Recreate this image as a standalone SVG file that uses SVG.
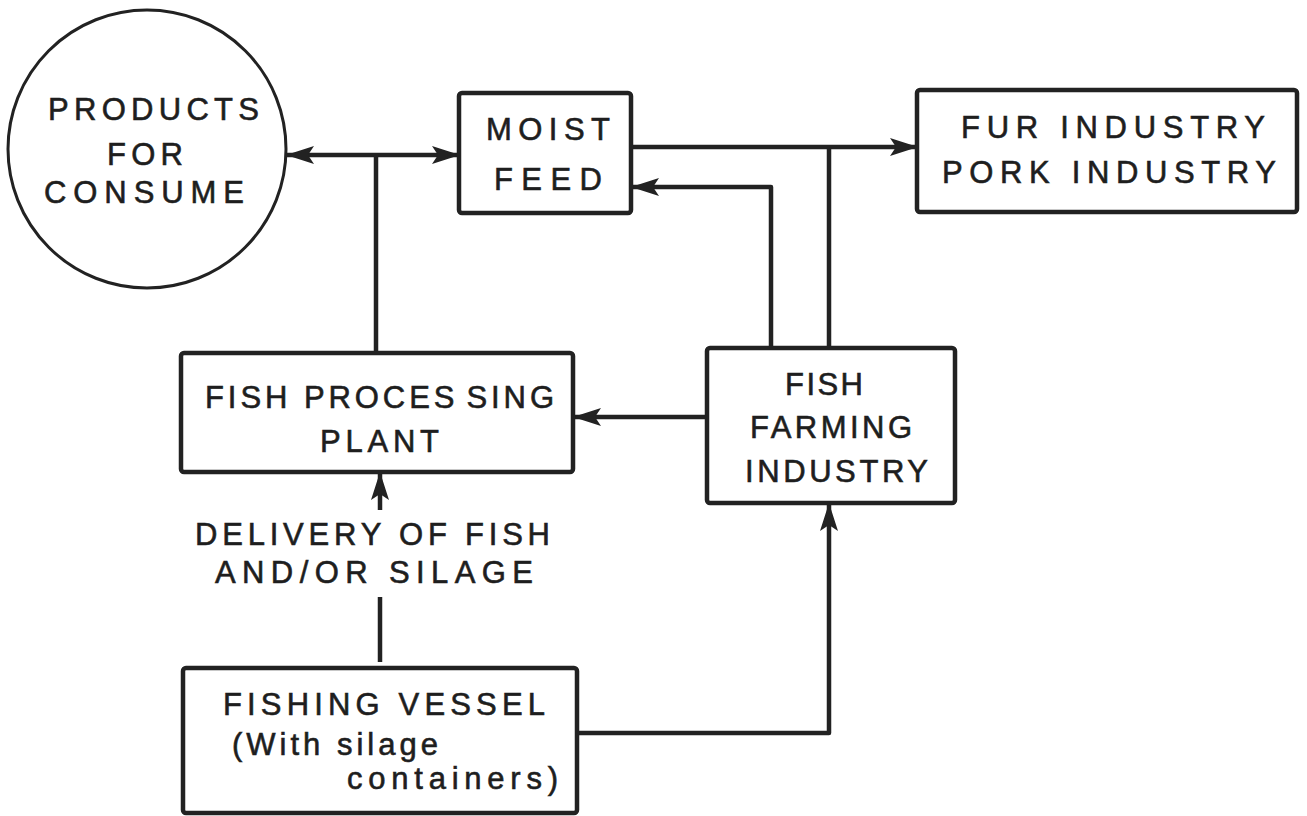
<svg xmlns="http://www.w3.org/2000/svg" width="1307" height="816" viewBox="0 0 1307 816">
<style>
.box{fill:#fff;stroke:#222;stroke-width:4.5}
.node{fill:#fff;stroke:#222;stroke-width:3}
.t{font-family:"Liberation Sans",Arial,sans-serif;font-size:31px;fill:#1e1e1e;stroke:#1e1e1e;stroke-width:0.6;text-anchor:start}
.c{fill:none;stroke:#222;stroke-width:4.5;stroke-linejoin:round}
.arr{marker-end:url(#ah)}
</style>
<defs>
<marker id="ah" viewBox="0 0 28 18" refX="27" refY="9" markerWidth="28" markerHeight="18" markerUnits="userSpaceOnUse" orient="auto-start-reverse">
<path d="M0,0 L28,9 L0,18 L6,9 z" fill="#222"/>
</marker>
</defs>
<rect width="1307" height="816" fill="#fff"/>

<g id="connectors">
<path class="c" d="M287,155 L459,155" marker-start="url(#ah)" marker-end="url(#ah)"/>
<path class="c" d="M376,155 L376,353"/>
<path class="c arr" d="M631,147 L917,147"/>
<path class="c" d="M829,147 L829,348"/>
<path class="c arr" d="M771,348 L771,187 L632,187"/>
<path class="c arr" d="M707,417 L574,417"/>
<path class="c arr" d="M380,510 L380,473"/>
<path class="c" d="M380,597 L380,662"/>
<path class="c arr" d="M577,733 L829,733 L829,504"/>
</g>

<g id="products">
<circle class="node" cx="147" cy="149" r="139"/>
<text class="t" x="48" y="120" textLength="211" lengthAdjust="spacing">PRODUCTS</text>
<text class="t" x="107" y="165" textLength="76" lengthAdjust="spacing">FOR</text>
<text class="t" x="44" y="203" textLength="200" lengthAdjust="spacing">CONSUME</text>
</g>

<g id="moist-feed">
<rect class="box" x="459" y="93" width="172" height="120" rx="3"/>
<text class="t" x="486" y="140" textLength="124" lengthAdjust="spacing">MOIST</text>
<text class="t" x="494" y="190" textLength="108" lengthAdjust="spacing">FEED</text>
</g>

<g id="fur-pork">
<rect class="box" x="917" y="90" width="380" height="122" rx="3"/>
<text class="t" x="961" y="138" textLength="304" lengthAdjust="spacing">FUR INDUSTRY</text>
<text class="t" x="942" y="183" textLength="334" lengthAdjust="spacing">PORK INDUSTRY</text>
</g>

<g id="fish-processing">
<rect class="box" x="181" y="353" width="392" height="119" rx="3"/>
<text class="t" x="205" y="408" textLength="349" lengthAdjust="spacing">FISH PROCES<tspan dx="8">SING</tspan></text>
<text class="t" x="320" y="452" textLength="119" lengthAdjust="spacing">PLANT</text>
</g>

<g id="fish-farming">
<rect class="box" x="707" y="348" width="248" height="155" rx="3"/>
<text class="t" x="785" y="395" textLength="78" lengthAdjust="spacing">FISH</text>
<text class="t" x="750" y="438" textLength="162" lengthAdjust="spacing">FARMING</text>
<text class="t" x="745" y="482" textLength="183" lengthAdjust="spacing">INDUSTRY</text>
</g>

<g id="delivery-label">
<text class="t" x="195" y="545" textLength="355" lengthAdjust="spacing">DELIVERY OF FISH</text>
<text class="t" x="215" y="583" textLength="318" lengthAdjust="spacing">AND/OR  SILAGE</text>
</g>

<g id="fishing-vessel">
<rect class="box" x="183" y="668" width="394" height="145" rx="3"/>
<text class="t" x="223" y="715" textLength="322" lengthAdjust="spacing">FISHING  VESSEL</text>
<text class="t" x="232" y="755" font-size="30" textLength="206" lengthAdjust="spacing">(With silage</text>
<text class="t" x="347" y="789" font-size="30" textLength="211" lengthAdjust="spacing">containers)</text>
</g>
</svg>
